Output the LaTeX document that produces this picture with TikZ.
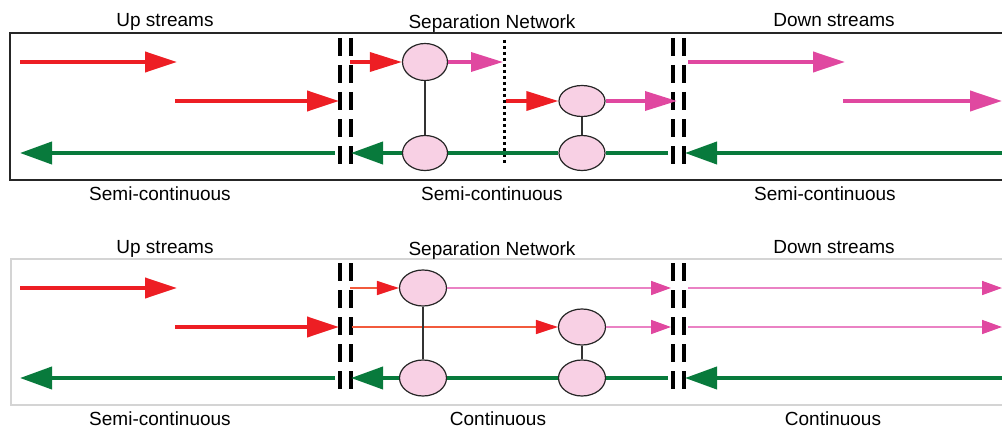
\documentclass[tikz,border=0pt]{standalone}
\usepackage{fontspec}
\setmainfont{Liberation Sans}
\usetikzlibrary{arrows.meta,shapes.geometric}
\definecolor{sred}{RGB}{237,30,36}
\definecolor{sorange}{RGB}{242,90,60}
\definecolor{smag}{RGB}{224,72,160}
\definecolor{spink}{RGB}{234,130,196}
\definecolor{sgreen}{RGB}{8,122,60}
\definecolor{sfill}{RGB}{248,208,228}
\definecolor{sframe}{RGB}{212,212,212}
\tikzset{
  lbl/.style={font=\fontsize{19}{22}\selectfont, anchor=base, inner sep=0pt},
  unit/.style={ellipse, draw=black!85, line width=1.2pt, fill=sfill, inner sep=0pt},
  link/.style={draw=black!80, line width=1.2pt},
  bigred/.style={draw=sred, line width=4pt, -{Triangle[length=32pt,width=20pt,fill=sred]}},
  midred/.style={draw=sred, line width=3.5pt, -{Triangle[length=32pt,width=19pt,fill=sred]}},
  midmag/.style={draw=smag, line width=3.5pt, -{Triangle[length=32pt,width=19pt,fill=smag]}},
  bigmag/.style={draw=smag, line width=4pt, -{Triangle[length=32pt,width=20pt,fill=smag]}},
  thinred/.style={draw=sorange, line width=1.6pt, -{Triangle[length=22pt,width=14pt,color=sred,fill=sred]}},
  thinpink/.style={draw=spink, line width=1.6pt, -{Triangle[length=20pt,width=14pt,color=smag,fill=smag]}},
  gline/.style={draw=sgreen, line width=4pt},
  garrow/.style={gline, -{Triangle[length=32pt,width=22pt,fill=sgreen]}},
  barrier/.style={draw=black, line width=4pt, dash pattern=on 18pt off 9pt},
  splitter/.style={draw=black, line width=3pt, dash pattern=on 3pt off 3pt},
}
\begin{document}
\begin{tikzpicture}[x=1pt,y=-1pt]
\useasboundingbox (0,0) rectangle (1002,428);

% ---------- semi-continuous network ----------
\draw[black!85, line width=2pt] (10,33) rectangle (1012,180);
\node[lbl] (t1) at (165,27) {Up streams};
\node[lbl] (t2) at (492,29) {Separation Network};
\node[lbl] (t3) at (834,27) {Down streams};
\node[lbl] (b1) at (160,200) {Semi-continuous};
\node[lbl] (b2) at (492,200) {Semi-continuous};
\node[lbl] (b3) at (825,200) {Semi-continuous};

\coordinate (pa1) at (20,62);   \coordinate (pa2) at (177,62);
\coordinate (pb1) at (175,101); \coordinate (pb2) at (339,101);
\coordinate (pg1) at (335,153); \coordinate (pg2) at (20,153);
\coordinate (pin1) at (350,62);
\coordinate (pcut) at (503,62); \coordinate (pin2) at (506,101);
\coordinate (pout2) at (677,101);
\coordinate (pgm) at (668,153); \coordinate (pgmtip) at (351,153);
\coordinate (pgr1) at (1012,153); \coordinate (pgr2) at (685,153);
\coordinate (pd1) at (688,62);  \coordinate (pd2) at (845,62);
\coordinate (pe1) at (843,101); \coordinate (pe2) at (1002,101);

\draw[barrier] (340,38) -- (340,168);
\draw[barrier] (351,38) -- (351,168);
\draw[barrier] (673,38) -- (673,168);
\draw[barrier] (684,38) -- (684,168);
\draw[splitter] (504,40) -- (504,165);

\node[unit, minimum width=45pt, minimum height=37pt] (u1) at (425,62) {};
\node[unit, minimum width=45pt, minimum height=35pt] (l1) at (425,153) {};
\node[unit, minimum width=46pt, minimum height=31pt] (u2) at (582,101) {};
\node[unit, minimum width=46pt, minimum height=35pt] (l2) at (582,153) {};
\draw[link] (u1) -- (l1);
\draw[link] (u2) -- (l2);

\draw[bigred] (pa1) -- (pa2);
\draw[bigred] (pb1) -- (pb2);
\draw[garrow] (pg1) -- (pg2);
\draw[midred] (pin1) -- (u1.west);
\draw[midmag] (u1.east) -- (pcut);
\draw[midred] (pin2) -- (u2.west);
\draw[midmag] (u2.east) -- (pout2);
\draw[gline] (pgm) -- (l2.east);
\draw[gline] (l2.west) -- (l1.east);
\draw[garrow] (l1.west) -- (pgmtip);
\draw[garrow] (pgr1) -- (pgr2);
\draw[bigmag] (pd1) -- (pd2);
\draw[bigmag] (pe1) -- (pe2);

% ---------- continuous network ----------
\draw[sframe, line width=1.5pt] (11,259) rectangle (1012,405);
\node[lbl] (s1) at (165,253) {Up streams};
\node[lbl] (s2) at (492,255) {Separation Network};
\node[lbl] (s3) at (834,253) {Down streams};
\node[lbl] (c1) at (160,425) {Semi-continuous};
\node[lbl] (c2) at (498,425) {Continuous};
\node[lbl] (c3) at (833,425) {Continuous};

\coordinate (qa1) at (20,288);   \coordinate (qa2) at (177,288);
\coordinate (qb1) at (175,327);  \coordinate (qb2) at (339,327);
\coordinate (qg1) at (335,378);  \coordinate (qg2) at (20,378);
\coordinate (qin1) at (350,288); \coordinate (qout1) at (671,288);
\coordinate (qin2) at (352,327); \coordinate (qout2) at (671,327);
\coordinate (qgm) at (668,378);  \coordinate (qgmtip) at (351,378);
\coordinate (qgr1) at (1012,378); \coordinate (qgr2) at (685,378);
\coordinate (qd1) at (688,288);  \coordinate (qd2) at (1002,288);
\coordinate (qe1) at (688,327);  \coordinate (qe2) at (1002,327);

\draw[barrier] (340,263) -- (340,393);
\draw[barrier] (351,263) -- (351,393);
\draw[barrier] (673,263) -- (673,393);
\draw[barrier] (684,263) -- (684,393);

\node[unit, minimum width=47pt, minimum height=36pt] (v1) at (423,288) {};
\node[unit, minimum width=47pt, minimum height=36pt] (m1) at (423,378) {};
\node[unit, minimum width=47pt, minimum height=36pt] (v2) at (582,327) {};
\node[unit, minimum width=47pt, minimum height=36pt] (m2) at (582,378) {};
\draw[thinred] (qin2) -- (v2.west);
\draw[link] (v1) -- (m1);
\draw[link] (v2) -- (m2);

\draw[bigred] (qa1) -- (qa2);
\draw[bigred] (qb1) -- (qb2);
\draw[garrow] (qg1) -- (qg2);
\draw[thinred] (qin1) -- (v1.west);
\draw[thinpink] (v1.east) -- (qout1);
\draw[thinpink] (v2.east) -- (qout2);
\draw[gline] (qgm) -- (m2.east);
\draw[gline] (m2.west) -- (m1.east);
\draw[garrow] (m1.west) -- (qgmtip);
\draw[garrow] (qgr1) -- (qgr2);
\draw[thinpink] (qd1) -- (qd2);
\draw[thinpink] (qe1) -- (qe2);
\end{tikzpicture}
\end{document}
